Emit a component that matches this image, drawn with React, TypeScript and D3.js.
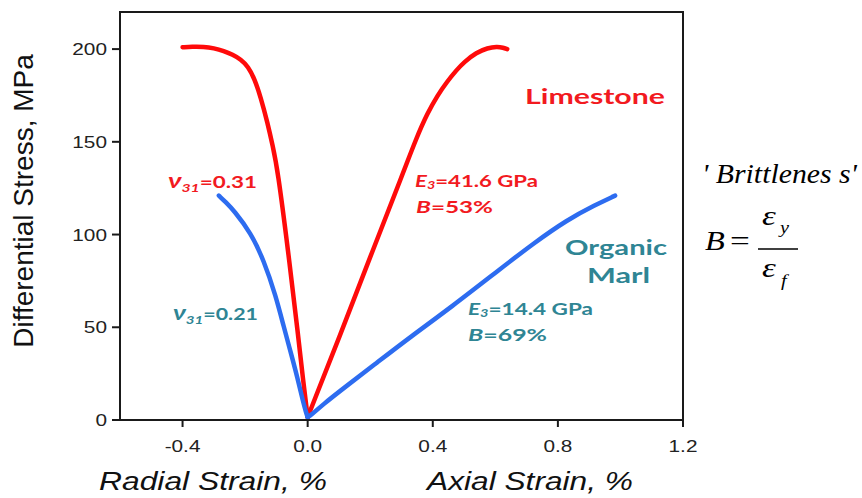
import React from "react";
import * as d3 from "d3";

// Stress–strain curves (strain in %, differential stress in MPa)
const limestoneRadialStrain = [0, -0.015, -0.03, -0.063, -0.096, -0.112, -0.128, -0.15, -0.17, -0.19, -0.214, -0.24, -0.268, -0.3, -0.332, -0.37, -0.4];
const limestoneRadialStress = [1.5, 22, 45, 92, 135, 148, 160, 174, 184, 190.5, 194.5, 197, 199, 200.5, 201.3, 201.3, 201];

const limestoneAxialStrain = [0, 0.015, 0.1, 0.2, 0.307, 0.345, 0.383, 0.415, 0.446, 0.475, 0.5, 0.54, 0.575, 0.605, 0.625, 0.638];
const limestoneAxialStress = [1.5, 8, 44, 88, 134, 151, 165.5, 175, 182.5, 188.5, 193, 198.2, 200.6, 201.3, 200.8, 200];

const marlRadialStrain = [0, -0.005, -0.015, -0.033, -0.055, -0.076, -0.102, -0.14, -0.182, -0.236, -0.262, -0.284];
const marlRadialStress = [1.5, 4, 10, 23, 37, 50, 67, 86, 101, 113, 117.5, 121];

const marlAxialStrain = [0, 0.01, 0.05, 0.11, 0.222, 0.33, 0.456, 0.616, 0.72, 0.83, 0.92, 0.983];
const marlAxialStress = [1.5, 2.5, 8.5, 16.5, 31, 45, 60.5, 81.5, 95, 108, 116, 121];

// Axis ticks
const xTickValues = [-0.4, 0, 0.4, 0.8, 1.2];
const xTickLabels = ["-0.4", "0.0", "0.4", "0.8", "1.2"];
const yTickValues = [0, 50, 100, 150, 200];
const yTickLabels = ["0", "50", "100", "150", "200"];

const RED = "#ff0a0a";
const RED_TEXT = "#f21a1f";
const BLUE = "#2d6cf0";
const TEAL = "#2f8594";

const W = 862;
const H = 498;
const plot = { left: 120, right: 683, top: 12, bottom: 420 };

const x = d3.scaleLinear().domain([-0.6, 1.2]).range([plot.left, plot.right]);
const y = d3.scaleLinear().domain([0, 220]).range([plot.bottom, plot.top]);

const pairs = (xs: number[], ys: number[]): [number, number][] => xs.map((v, i) => [v, ys[i]]);

const line = d3
  .line<[number, number]>()
  .x((d) => x(d[0]))
  .y((d) => y(d[1]))
  .curve(d3.curveBasis);

const curves = [
  { pts: pairs(limestoneRadialStrain, limestoneRadialStress), color: RED },
  { pts: pairs(limestoneAxialStrain, limestoneAxialStress), color: RED },
  { pts: pairs(marlRadialStrain, marlRadialStress), color: BLUE },
  { pts: pairs(marlAxialStrain, marlAxialStress), color: BLUE },
];

const SANS = "'Liberation Sans', Arial, sans-serif";
const ANNO = "Lato, 'Noto Sans', 'Open Sans', sans-serif";
const SERIF = "'Liberation Serif', 'Times New Roman', serif";

function Anno(props: { x: number; y: number; len: number; color: string; size: number; children: React.ReactNode }) {
  return (
    <text
      x={props.x}
      y={props.y}
      fill={props.color}
      fontFamily={ANNO}
      fontWeight="bold"
      fontSize={props.size}
      textLength={props.len}
      lengthAdjust="spacingAndGlyphs"
    >
      {props.children}
    </text>
  );
}

export default function App() {
  return (
    <svg
      width={W}
      height={H}
      viewBox={`0 0 ${W} ${H}`}
      style={{ position: "absolute", left: 0, top: 0, background: "#fff" }}
    >
      <rect x={0} y={0} width={W} height={H} fill="#fff" />

      {/* curves */}
      {curves.map((c, i) => (
        <path
          key={i}
          d={line(c.pts) || ""}
          fill="none"
          stroke={c.color}
          strokeWidth={4.5}
          strokeLinecap="round"
          strokeLinejoin="round"
        />
      ))}

      {/* frame */}
      <rect
        x={plot.left}
        y={plot.top}
        width={plot.right - plot.left}
        height={plot.bottom - plot.top}
        fill="none"
        stroke="#1a1a1a"
        strokeWidth={2}
      />

      {/* y axis */}
      {yTickValues.map((v, i) => (
        <g key={"y" + v}>
          <line x1={plot.left - 8} x2={plot.left} y1={y(v)} y2={y(v)} stroke="#1a1a1a" strokeWidth={2} />
          <text
            transform={`translate(${plot.left - 13},${y(v) + 6}) scale(1.3,1)`}
            textAnchor="end"
            fontFamily={SANS}
            fontSize={16}
            fill="#222"
          >
            {yTickLabels[i]}
          </text>
        </g>
      ))}

      {/* x axis */}
      {xTickValues.map((v, i) => (
        <g key={"x" + v}>
          <line x1={x(v)} x2={x(v)} y1={plot.bottom} y2={plot.bottom + 7} stroke="#1a1a1a" strokeWidth={2} />
          <text
            transform={`translate(${x(v)},${plot.bottom + 32}) scale(1.3,1)`}
            textAnchor="middle"
            fontFamily={SANS}
            fontSize={16}
            fill="#222"
          >
            {xTickLabels[i]}
          </text>
        </g>
      ))}

      {/* axis titles */}
      <text
        transform="translate(33,201) rotate(-90)"
        textAnchor="middle"
        fontFamily={SANS}
        fontSize={28}
        fill="#111"
      >
        Differential Stress, MPa
      </text>
      <text
        x={99}
        y={490}
        fontFamily={SANS}
        fontStyle="italic"
        fontSize={25}
        fill="#111"
        textLength={228}
        lengthAdjust="spacingAndGlyphs"
      >
        Radial Strain, %
      </text>
      <text
        x={427}
        y={490}
        fontFamily={SANS}
        fontStyle="italic"
        fontSize={25}
        fill="#111"
        textLength={206}
        lengthAdjust="spacingAndGlyphs"
      >
        Axial Strain, %
      </text>

      {/* annotations */}
      <Anno x={525} y={104} len={140} color={RED_TEXT} size={21}>
        Limestone
      </Anno>
      <Anno x={565} y={255} len={102} color={TEAL} size={21}>
        Organic
      </Anno>
      <Anno x={587} y={283} len={63} color={TEAL} size={21}>
        Marl
      </Anno>

      <Anno x={168} y={188} len={89} color={RED_TEXT} size={17}>
        <tspan fontStyle="italic" fontSize={21}>ν</tspan>
        <tspan fontStyle="italic" fontSize={12} dy={4}>31</tspan>
        <tspan dy={-4}>=0.31</tspan>
      </Anno>
      <Anno x={173} y={320} len={85} color={TEAL} size={17}>
        <tspan fontStyle="italic" fontSize={21}>ν</tspan>
        <tspan fontStyle="italic" fontSize={12} dy={4}>31</tspan>
        <tspan dy={-4}>=0.21</tspan>
      </Anno>

      <Anno x={415} y={187} len={123} color={RED_TEXT} size={17}>
        <tspan fontStyle="italic">E</tspan>
        <tspan fontStyle="italic" fontSize={11} dy={2}>3</tspan>
        <tspan dy={-2}>=41.6 GPa</tspan>
      </Anno>
      <Anno x={416} y={213} len={77} color={RED_TEXT} size={17}>
        <tspan fontStyle="italic">B</tspan>=53%
      </Anno>
      <Anno x={468} y={315} len={125} color={TEAL} size={17}>
        <tspan fontStyle="italic">E</tspan>
        <tspan fontStyle="italic" fontSize={11} dy={2}>3</tspan>
        <tspan dy={-2}>=14.4 GPa</tspan>
      </Anno>
      <Anno x={468} y={341} len={79} color={TEAL} size={17}>
        <tspan fontStyle="italic">B</tspan>=69%
      </Anno>

      {/* brittleness definition */}
      <text
        x={702}
        y={183}
        fontFamily={SERIF}
        fontStyle="italic"
        fontSize={27}
        fill="#000"
        textLength={155}
        lengthAdjust="spacingAndGlyphs"
      >
        ' Brittlenes s'
      </text>
      <text transform="translate(705,250) scale(1.2,1)" fontFamily={SERIF} fontStyle="italic" fontSize={27} fill="#000">
        B
      </text>
      <text transform="translate(730,250) scale(1.3,1)" fontFamily={SERIF} fontSize={27} fill="#000">
        =
      </text>
      <line x1={758} x2={798} y1={249} y2={249} stroke="#000" strokeWidth={1.3} />
      <text transform="translate(762,225) scale(1.3,1)" fontFamily={SERIF} fontStyle="italic" fontSize={27} fill="#000">
        ε
      </text>
      <text transform="translate(780,233) scale(1.2,1)" fontFamily={SERIF} fontStyle="italic" fontSize={17} fill="#000">
        y
      </text>
      <text transform="translate(762,277) scale(1.3,1)" fontFamily={SERIF} fontStyle="italic" fontSize={27} fill="#000">
        ε
      </text>
      <text transform="translate(781,286) scale(1.2,1)" fontFamily={SERIF} fontStyle="italic" fontSize={17} fill="#000">
        f
      </text>
    </svg>
  );
}
